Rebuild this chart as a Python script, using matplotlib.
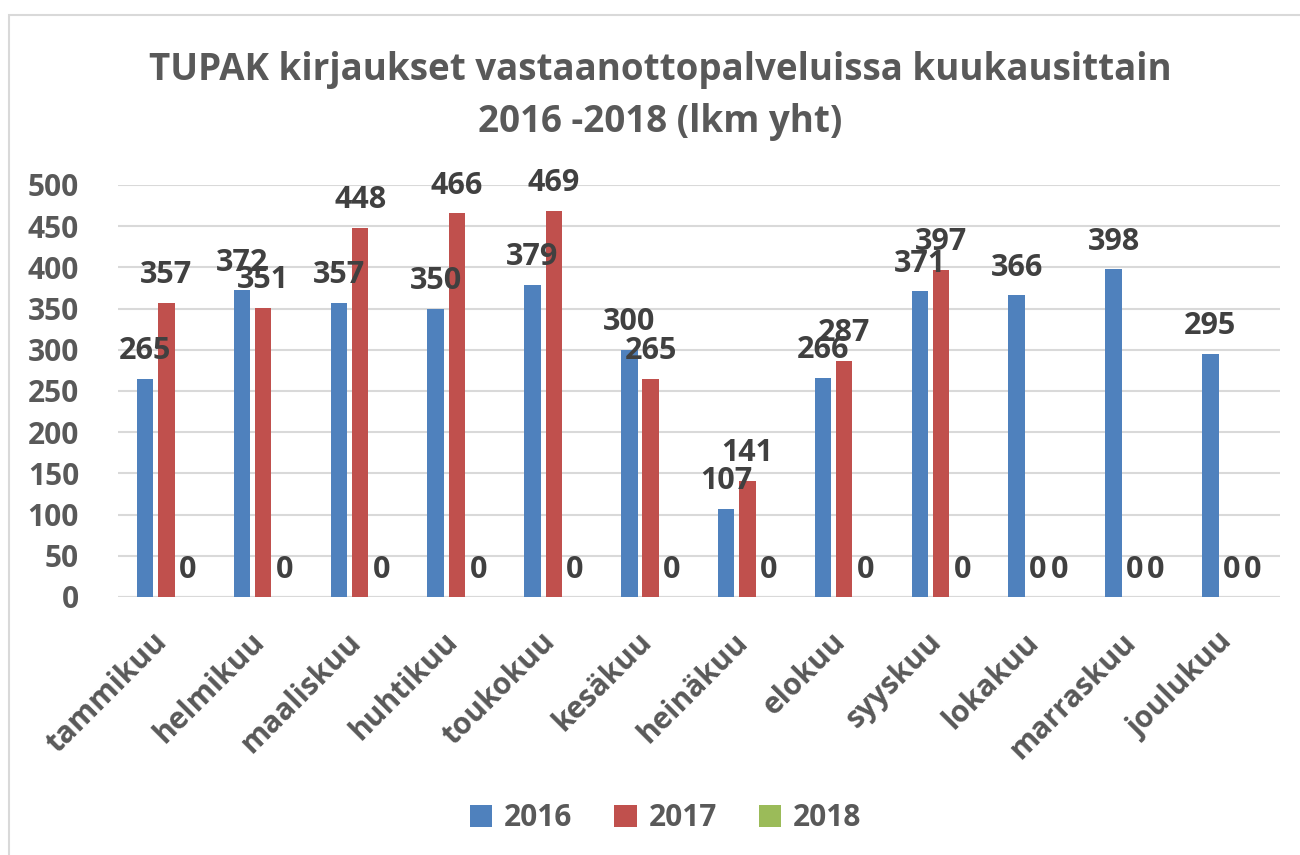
import matplotlib.pyplot as plt
import matplotlib.transforms as mtransforms
import numpy as np
from matplotlib.patches import Rectangle

# data
months = ['tammikuu', 'helmikuu', 'maaliskuu', 'huhtikuu', 'toukokuu', 'kesäkuu',
          'heinäkuu', 'elokuu', 'syyskuu', 'lokakuu', 'marraskuu', 'joulukuu']
years = ['2016', '2017', '2018']
v2016 = [265, 372, 357, 350, 379, 300, 107, 266, 371, 366, 398, 295]
v2017 = [357, 351, 448, 466, 469, 265, 141, 287, 397, 0, 0, 0]
v2018 = [0, 0, 0, 0, 0, 0, 0, 0, 0, 0, 0, 0]
yticks = [0, 50, 100, 150, 200, 250, 300, 350, 400, 450, 500]

colors = ['#4f81bd', '#c0504d', '#9bbb59']
txt_dark = '#404040'
txt_grey = '#595959'

plt.rcParams['font.family'] = ['Open Sans', 'DejaVu Sans']
plt.rcParams['font.weight'] = 'bold'

fig = plt.figure(figsize=(13, 8.55), dpi=100)
# chart border
fig.patches.append(Rectangle((9 / 1300, -0.05), 1.1, 1 - 15 / 855 + 0.05, transform=fig.transFigure,
                             fill=False, edgecolor='#d9d9d9', linewidth=1.5))

ax = fig.add_axes([118 / 1300, 1 - 597 / 855, (1280 - 118) / 1300, (597 - 185) / 855])

x = np.arange(len(months))
width = 0.17
step = 0.22
series = [v2016, v2017, v2018]
for i, vals in enumerate(series):
    pos = x + (i - 1) * step
    ax.bar(pos, vals, width, color=colors[i], label=years[i], zorder=3)
    for p, v in zip(pos, vals):
        ax.annotate(str(v), (p, v), xytext=(0, 9), textcoords='offset points',
                    ha='center', va='bottom', fontsize=22, fontweight='bold',
                    color=txt_dark, annotation_clip=False, zorder=5)

ax.set_ylim(0, 500)
ax.set_xlim(-0.5, len(months) - 0.5)
ax.set_yticks(yticks)
ax.set_yticklabels([str(t) for t in yticks], fontsize=21.5, fontweight='bold', color=txt_grey)
ax.set_xticks(x)
ax.set_xticklabels(months, rotation=45, ha='right', rotation_mode='anchor',
                   fontsize=21.5, fontweight='bold', color=txt_grey)
ax.tick_params(axis='x', length=0, pad=12)
ax.tick_params(axis='y', length=0, pad=28)
shift = mtransforms.ScaledTranslation(-0.14, -0.13, fig.dpi_scale_trans)
for lbl in ax.get_xticklabels():
    lbl.set_transform(lbl.get_transform() + shift)
ax.yaxis.grid(True, color='#d9d9d9', linewidth=1.5, zorder=0)
for s in ax.spines.values():
    s.set_visible(False)
ax.axhline(0, color='#d9d9d9', linewidth=1.5, zorder=1)

fig.text(0.508, 1 - 70 / 855, 'TUPAK kirjaukset vastaanottopalveluissa kuukausittain',
         ha='center', va='center', fontsize=26.5, fontweight='bold', color=txt_grey)
fig.text(0.508, 1 - 122 / 855, '2016 -2018 (lkm yht)',
         ha='center', va='center', fontsize=26.5, fontweight='bold', color=txt_grey)

leg = fig.legend(loc='center', bbox_to_anchor=(0.512, 1 - 818 / 855), ncol=3, frameon=False,
                 prop={'size': 21.5, 'weight': 'bold'}, handlelength=0.75, handleheight=0.75,
                 columnspacing=1.4, handletextpad=0.4)
for t in leg.get_texts():
    t.set_color(txt_grey)

fig.savefig('out.png', dpi=100)
